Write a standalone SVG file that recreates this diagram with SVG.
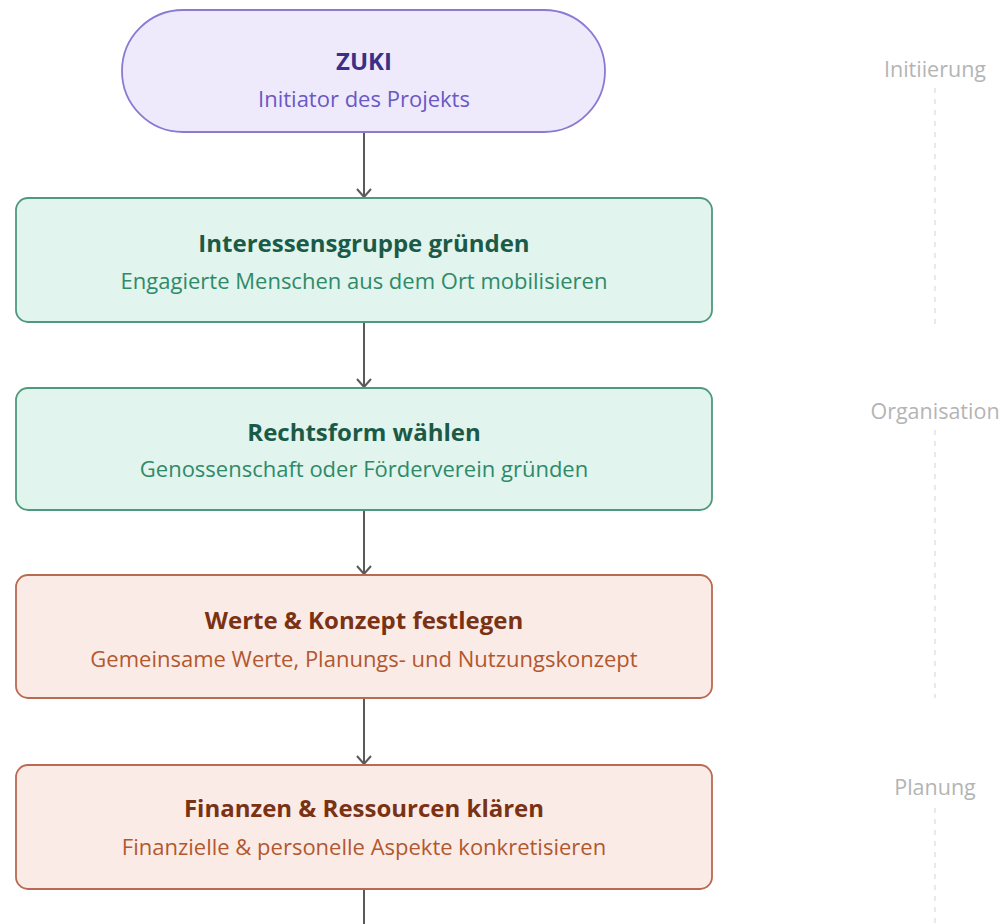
<svg xmlns="http://www.w3.org/2000/svg" width="1005" height="924" viewBox="0 0 1005 924">
  <style>
    text { font-family: "Open Sans", "Noto Sans", "Liberation Sans", sans-serif; text-anchor: middle; }
    .t { font-size: 24px; font-weight: 700; }
    .s { font-size: 22px; }
    .phase { font-size: 21.5px; fill: #b4b4b4; }
    .lane { stroke: #e2e2e2; stroke-width: 1.5; stroke-dasharray: 5 6; fill: none; }
    .edge { stroke: #5a5a5a; stroke-width: 2; fill: none; marker-end: url(#chev); }
    .purple rect { fill: #eeeafc; stroke: #8a7ad2; stroke-width: 1.8; }
    .purple .t { fill: #3b2f86; }
    .purple .s { fill: #6a58c4; }
    .green rect { fill: #e1f4ed; stroke: #4f9a7c; stroke-width: 1.8; }
    .green .t { fill: #1b5a46; }
    .green .s { fill: #2f8a69; }
    .red rect { fill: #fbebe6; stroke: #b96a50; stroke-width: 1.8; }
    .red .t { fill: #7a3214; }
    .red .s { fill: #b2582f; }
  </style>
  <defs>
    <!-- open chevron head, drawn along +x so orient="auto" follows the line -->
    <marker id="chev" viewBox="0 0 12 16" refX="11" refY="8" markerWidth="12" markerHeight="16" markerUnits="userSpaceOnUse" orient="auto">
      <path d="M3 1 L11 8 L3 15" fill="none" stroke="#5a5a5a" stroke-width="2"/>
    </marker>
  </defs>
  <rect width="1005" height="924" fill="#ffffff"/>

  <!-- phase lanes -->
  <g id="phases">
    <text class="phase" x="935" y="77">Initiierung</text>
    <line class="lane" x1="935" y1="88" x2="935" y2="326"/>
    <text class="phase" x="935" y="419">Organisation</text>
    <line class="lane" x1="935" y1="430" x2="935" y2="698"/>
    <text class="phase" x="935" y="795">Planung</text>
    <line class="lane" x1="935" y1="808" x2="935" y2="924"/>
  </g>

  <!-- connectors -->
  <g id="connectors">
    <line class="edge" x1="364" y1="133" x2="364" y2="197"/>
    <line class="edge" x1="364" y1="322" x2="364" y2="387"/>
    <line class="edge" x1="364" y1="510" x2="364" y2="574"/>
    <line class="edge" x1="364" y1="698" x2="364" y2="764"/>
    <line x1="364" y1="889" x2="364" y2="924" stroke="#5a5a5a" stroke-width="2"/>
  </g>

  <g id="zuki" class="purple">
    <rect x="122" y="10" width="483" height="122" rx="61" ry="61"/>
    <text class="t" x="364" y="70">ZUKI</text>
    <text class="s" x="364" y="107">Initiator des Projekts</text>
  </g>

  <g id="interessensgruppe" class="green">
    <rect x="16" y="198" width="696" height="124" rx="12" ry="12"/>
    <text class="t" x="364" y="252">Interessensgruppe gründen</text>
    <text class="s" x="364" y="289">Engagierte Menschen aus dem Ort mobilisieren</text>
  </g>

  <g id="rechtsform" class="green">
    <rect x="16" y="388" width="696" height="122" rx="12" ry="12"/>
    <text class="t" x="364" y="441">Rechtsform wählen</text>
    <text class="s" x="364" y="477">Genossenschaft oder Förderverein gründen</text>
  </g>

  <g id="werte" class="red">
    <rect x="16" y="575" width="696" height="123" rx="12" ry="12"/>
    <text class="t" x="364" y="629">Werte &amp; Konzept festlegen</text>
    <text class="s" x="364" y="667">Gemeinsame Werte, Planungs- und Nutzungskonzept</text>
  </g>

  <g id="finanzen" class="red">
    <rect x="16" y="765" width="696" height="124" rx="12" ry="12"/>
    <text class="t" x="364" y="817">Finanzen &amp; Ressourcen klären</text>
    <text class="s" x="364" y="855">Finanzielle &amp; personelle Aspekte konkretisieren</text>
  </g>
</svg>
